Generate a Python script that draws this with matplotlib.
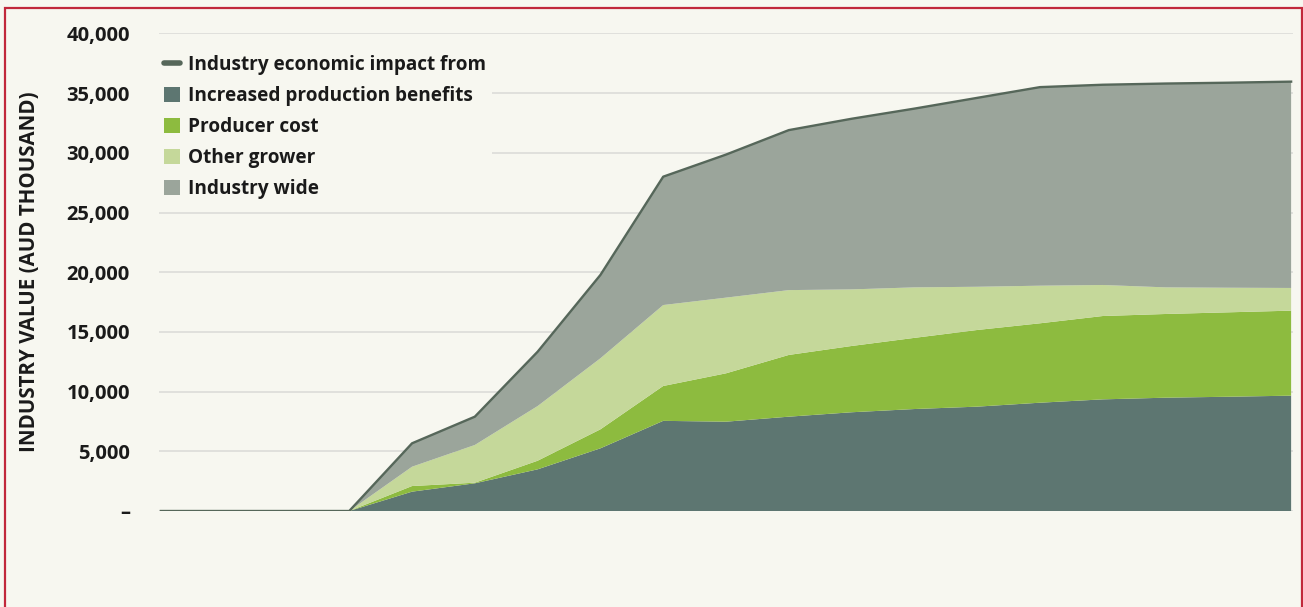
import matplotlib.pyplot as plt
from matplotlib.lines import Line2D
from matplotlib.patches import Patch, Rectangle
from matplotlib.ticker import FuncFormatter
import numpy as np

plt.rcParams['font.family'] = ['Open Sans', 'DejaVu Sans']

# one value per year of the projection (AUD thousand)
years = list(range(19))
production_benefits = [0, 0, 0, 0, 1620, 2320, 3490, 5250, 7550, 7480, 7900,
                       8270, 8540, 8740, 9070, 9350, 9490, 9570, 9660]
producer_cost = [0, 0, 0, 0, 470, 50, 720, 1590, 2920, 4050, 5170,
                 5550, 5960, 6420, 6650, 6980, 7010, 7070, 7120]
other_grower = [0, 0, 0, 0, 1620, 3160, 4580, 5950, 6780, 6340, 5430,
                4740, 4230, 3620, 3150, 2600, 2230, 2060, 1900]
industry_wide = [0, 0, 0, 0, 1960, 2370, 4550, 6980, 10750, 11980, 13400,
                 14290, 14970, 15820, 16630, 16770, 17070, 17170, 17280]

labels = ['Increased production benefits', 'Producer cost',
          'Other grower', 'Industry wide']
colors = ['#5d7671', '#8dbb3f', '#c5d89a', '#9ba59b']
line_color = '#56675a'
bg = '#f7f7f0'
ink = '#1a1a1a'

total = np.sum([production_benefits, producer_cost, other_grower,
                industry_wide], axis=0)

fig = plt.figure(figsize=(13.03, 6.07), dpi=100, facecolor=bg)
ax = fig.add_axes([159 / 1303, 96 / 607, 1134 / 1303, 477.6 / 607])
ax.set_facecolor(bg)

ax.stackplot(years, production_benefits, producer_cost, other_grower,
             industry_wide, colors=colors, zorder=2, lw=0)
ax.plot(years, total, color=line_color, lw=1.7, zorder=3)

ax.set_xlim(-0.03, 18.03)
ax.set_ylim(0, 40000)
ax.set_yticks(range(0, 40001, 5000))
ax.yaxis.set_major_formatter(
    FuncFormatter(lambda v, p: '–' if v == 0 else f'{int(v):,}'))
ax.set_xticks([])
ax.grid(axis='y', color='#dcdcd8', lw=1.2, zorder=0)
ax.set_axisbelow(True)
for s in ax.spines.values():
    s.set_visible(False)
ax.tick_params(axis='y', length=0, pad=21, labelsize=14.5, labelcolor=ink)
for t in ax.get_yticklabels():
    t.set_fontweight('bold')

fig.text(30 / 1303, (607 - 272) / 607, 'INDUSTRY VALUE (AUD THOUSAND)',
         rotation=90, ha='center', va='center', fontsize=14.8,
         fontweight='bold', color=ink)

handles = [Line2D([0], [0], color=line_color, lw=4, solid_capstyle='round')]
handles += [Patch(facecolor=c, edgecolor='none') for c in colors]
leg = ax.legend(handles, ['Industry economic impact from'] + labels,
                loc='upper left', bbox_to_anchor=(149 / 1303, (607 - 40) / 607),
                bbox_transform=fig.transFigure, frameon=True, facecolor=bg,
                edgecolor='none', framealpha=1, fancybox=False,
                handlelength=0.85, handleheight=0.85, handletextpad=0.4,
                labelspacing=0.58, borderpad=0.3,
                prop={'size': 13.7, 'weight': 'bold'})
for t in leg.get_texts():
    t.set_color(ink)
leg.set_zorder(5)

# outer frame
fig.patches.append(Rectangle((5 / 1303, -0.05), 1297 / 1303, (599 / 607) + 0.05,
                             transform=fig.transFigure, fill=False,
                             edgecolor='#c1283b', lw=1.6))

fig.savefig('out.png', dpi=100, facecolor=bg)
